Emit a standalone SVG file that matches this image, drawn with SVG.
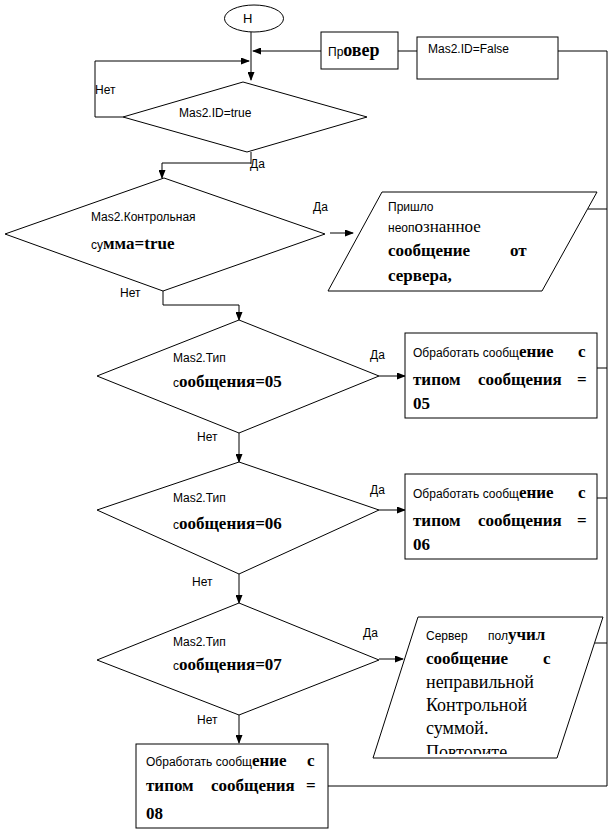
<svg xmlns="http://www.w3.org/2000/svg" width="611" height="832" viewBox="0 0 611 832">
<style>
.sh{fill:#fff;stroke:#000;stroke-width:1}
.ln{fill:none;stroke:#000;stroke-width:1}
.s{font-family:"Liberation Sans",Arial,sans-serif;font-size:12px;fill:#000}
.r{font-family:"Liberation Serif","Times New Roman",serif;font-size:18px;fill:#000}
.b{font-family:"Liberation Serif","Times New Roman",serif;font-size:17px;font-weight:bold;fill:#000}
</style>
<defs>
<marker id="ah" markerWidth="9" markerHeight="7" refX="8" refY="3.5" orient="auto" markerUnits="userSpaceOnUse">
<path d="M0,0 L9,3.5 L0,7 z" fill="#000"/>
</marker>
<clipPath id="clip5"><rect x="370" y="615" width="240" height="139"/></clipPath>
</defs>
<rect width="611" height="832" fill="#fff"/>

<g id="connectors">
<path class="ln" d="M251,32 V80" marker-end="url(#ah)"/>
<path class="ln" d="M321,51 H253" marker-end="url(#ah)"/>
<path class="ln" d="M398,51 H417"/>
<path class="ln" d="M123,117 H95 V61 H249" marker-end="url(#ah)"/>
<path class="ln" d="M251,152 V164 M251,163 H162 V178" marker-end="url(#ah)"/>
<path class="ln" d="M330,233 H353" marker-end="url(#ah)"/>
<path class="ln" d="M163,291 V305 H239 V320" marker-end="url(#ah)"/>
<path class="ln" d="M379,376 H405" marker-end="url(#ah)"/>
<path class="ln" d="M239,433 V462" marker-end="url(#ah)"/>
<path class="ln" d="M379,510 H405" marker-end="url(#ah)"/>
<path class="ln" d="M239,574 V603" marker-end="url(#ah)"/>
<path class="ln" d="M379,659 H403" marker-end="url(#ah)"/>
<path class="ln" d="M239,715 V743" marker-end="url(#ah)"/>
<path class="ln" d="M558,51 H607 V786 H328"/>
<path class="ln" d="M588,209 H607"/>
<path class="ln" d="M597,368 H607"/>
<path class="ln" d="M597,498 H607"/>
<path class="ln" d="M595,643 H607"/>
</g>

<g id="start">
<ellipse class="sh" cx="254" cy="18.5" rx="29.5" ry="13.5"/>
<text class="s" x="243" y="23" style="font-size:13px">Н</text>
</g>

<g id="prover">
<rect class="sh" x="321" y="32" width="77" height="37"/>
<text x="328" y="56"><tspan class="s">Пр</tspan><tspan class="b" style="font-size:18px">овер</tspan></text>
</g>

<g id="idfalse">
<rect class="sh" x="417" y="37" width="141" height="42"/>
<text class="s" x="428" y="53">Mas2.ID=False</text>
</g>

<g id="d1">
<polygon class="sh" points="243,82 367,117 247,152 123,117"/>
<text class="s" x="179" y="117">Mas2.ID=true</text>
<text class="s" x="95" y="94">Нет</text>
<text class="s" x="250" y="168">Да</text>
</g>

<g id="d2">
<polygon class="sh" points="164,178 325,234 163,291 5,234"/>
<text class="s" x="91" y="221">Mas2.Контрольная</text>
<text x="91" y="249"><tspan class="s">су</tspan><tspan class="b">мма=true</tspan></text>
<text class="s" x="313" y="211">Да</text>
<text class="s" x="120" y="297">Нет</text>
</g>

<g id="p2">
<polygon class="sh" points="382,192 597,192 542,291 328,291"/>
<text class="s" x="388" y="211">Пришло</text>
<text x="388" y="232"><tspan class="s">неоп</tspan><tspan class="r" style="font-size:17px">ознанное</tspan></text>
<text class="b" x="388" y="256">сообщение</text>
<text class="b" x="510" y="256">от</text>
<text class="b" x="388" y="281">сервера,</text>
</g>

<g id="d3">
<polygon class="sh" points="239,320 379,376 239,433 97,376"/>
<text class="s" x="173" y="362">Mas2.Тип</text>
<text x="173" y="387"><tspan class="s">с</tspan><tspan class="b">ообщения=05</tspan></text>
<text class="s" x="370" y="359">Да</text>
<text class="s" x="197" y="441">Нет</text>
</g>

<g id="b3">
<rect class="sh" x="405" y="333" width="192" height="85"/>
<text x="413" y="357"><tspan class="s">Обработать сообщ</tspan><tspan class="b">ение</tspan></text>
<text class="b" x="578" y="357">с</text>
<text class="b" x="413" y="385">типом</text>
<text class="b" x="478" y="385">сообщения</text>
<text class="b" x="577" y="385">=</text>
<text class="b" x="413" y="409">05</text>
</g>

<g id="d4">
<polygon class="sh" points="239,462 379,510 239,574 97,510"/>
<text class="s" x="173" y="502">Mas2.Тип</text>
<text x="173" y="529"><tspan class="s">с</tspan><tspan class="b">ообщения=06</tspan></text>
<text class="s" x="370" y="494">Да</text>
<text class="s" x="192" y="586">Нет</text>
</g>

<g id="b4">
<rect class="sh" x="405" y="474" width="192" height="85"/>
<text x="413" y="498"><tspan class="s">Обработать сообщ</tspan><tspan class="b">ение</tspan></text>
<text class="b" x="578" y="498">с</text>
<text class="b" x="413" y="526">типом</text>
<text class="b" x="478" y="526">сообщения</text>
<text class="b" x="577" y="526">=</text>
<text class="b" x="413" y="550">06</text>
</g>

<g id="d5">
<polygon class="sh" points="239,603 379,660 239,715 97,660"/>
<text class="s" x="173" y="646">Mas2.Тип</text>
<text x="173" y="670"><tspan class="s">с</tspan><tspan class="b">ообщения=07</tspan></text>
<text class="s" x="363" y="637">Да</text>
<text class="s" x="197" y="724">Нет</text>
</g>

<g id="p5">
<polygon class="sh" points="418,617 603,617 557,758 373,758"/>
<g clip-path="url(#clip5)">
<text class="s" x="426" y="640">Сервер</text>
<text x="488" y="640"><tspan class="s">пол</tspan><tspan class="b">учил</tspan></text>
<text class="b" x="426" y="664">сообщение</text>
<text class="b" x="543" y="664">с</text>
<text class="r" x="426" y="688">неправильной</text>
<text class="r" x="426" y="711">Контрольной</text>
<text class="r" x="426" y="734">суммой.</text>
<text class="r" x="426" y="758">Повторите</text>
</g>
</g>

<g id="b8">
<rect class="sh" x="136" y="744" width="192" height="84"/>
<text x="146" y="766"><tspan class="s">Обработать сообщ</tspan><tspan class="b">ение</tspan></text>
<text class="b" x="307" y="766">с</text>
<text class="b" x="146" y="791">типом</text>
<text class="b" x="211" y="791">сообщения</text>
<text class="b" x="306" y="791">=</text>
<text class="b" x="146" y="819">08</text>
</g>
</svg>
